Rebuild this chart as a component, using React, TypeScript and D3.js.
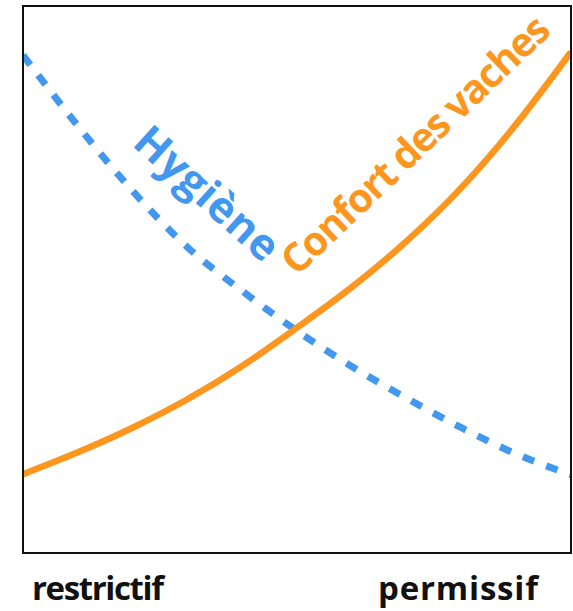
import React, { useEffect, useRef } from "react";
import * as d3 from "d3";

// position on the restrictive -> permissive scale
const steps = [0, 1, 2, 3, 4, 5, 6, 7, 8, 9, 10];
const confort = [14.4, 18.4, 22.9, 28.1, 34.2, 41.2, 48.6, 57.0, 66.8, 78.4, 91.6];
const hygiene = [91.0, 78.1, 66.2, 55.9, 47.9, 40.6, 34.1, 28.3, 22.9, 18.1, 14.3];
const xLabels = ["restrictif", "permissif"];
const seriesNames = ["Confort des vaches", "Hygiène"];

const W = 573;
const H = 611;

const App: React.FC = () => {
  const svgRef = useRef<SVGSVGElement>(null);

  useEffect(() => {
    const svg = d3.select(svgRef.current);
    svg.selectAll("*").remove();

    const left = 23;
    const right = 571;
    const top = 6;
    const bottom = 553;

    const x = d3.scaleLinear().domain([0, 10]).range([left, right]);
    const y = d3.scaleLinear().domain([0, 100]).range([bottom, top]);

    svg
      .append("defs")
      .append("clipPath")
      .attr("id", "plot")
      .append("rect")
      .attr("x", left)
      .attr("y", top)
      .attr("width", right - left)
      .attr("height", bottom - top);

    const line = d3
      .line<number>()
      .x((_, i) => x(steps[i]))
      .y((d) => y(d))
      .curve(d3.curveMonotoneX);

    const g = svg.append("g").attr("clip-path", "url(#plot)");

    g.append("path")
      .attr("d", line(hygiene) || "")
      .attr("fill", "none")
      .attr("stroke", "#4297ee")
      .attr("stroke-width", 7)
      .attr("stroke-dasharray", "12 13");

    g.append("path")
      .attr("d", line(confort) || "")
      .attr("fill", "none")
      .attr("stroke", "#fd961f")
      .attr("stroke-width", 6.5);

    // frame
    svg
      .append("rect")
      .attr("x", left)
      .attr("y", top)
      .attr("width", right - left)
      .attr("height", bottom - top)
      .attr("fill", "none")
      .attr("stroke", "#111")
      .attr("stroke-width", 2);

    const font = "'Open Sans', 'DejaVu Sans', sans-serif";

    // series labels, slanted along the curves
    svg
      .append("text")
      .attr("transform", "translate(297,277) rotate(-43.7)")
      .attr("font-family", font)
      .attr("font-weight", 700)
      .attr("font-size", 40)
      .attr("textLength", 354)
      .attr("fill", "#fd961f")
      .text(seriesNames[0]);

    svg
      .append("text")
      .attr("transform", "translate(131,145) rotate(42)")
      .attr("font-family", font)
      .attr("font-weight", 700)
      .attr("font-size", 43)
      .attr("textLength", 178)
      .attr("fill", "#4297ee")
      .text(seriesNames[1]);

    // axis end labels
    svg
      .append("text")
      .attr("x", 32)
      .attr("y", 600)
      .attr("font-family", font)
      .attr("font-weight", 700)
      .attr("font-size", 33)
      .attr("textLength", 132)
      .attr("fill", "#111")
      .text(xLabels[0]);

    svg
      .append("text")
      .attr("x", 378)
      .attr("y", 600)
      .attr("font-family", font)
      .attr("font-weight", 700)
      .attr("font-size", 33)
      .attr("textLength", 160)
      .attr("fill", "#111")
      .text(xLabels[1]);
  }, []);

  return (
    <svg
      ref={svgRef}
      width={W}
      height={H}
      style={{ position: "absolute", left: 0, top: 0, background: "#fff" }}
    />
  );
};

export default App;
